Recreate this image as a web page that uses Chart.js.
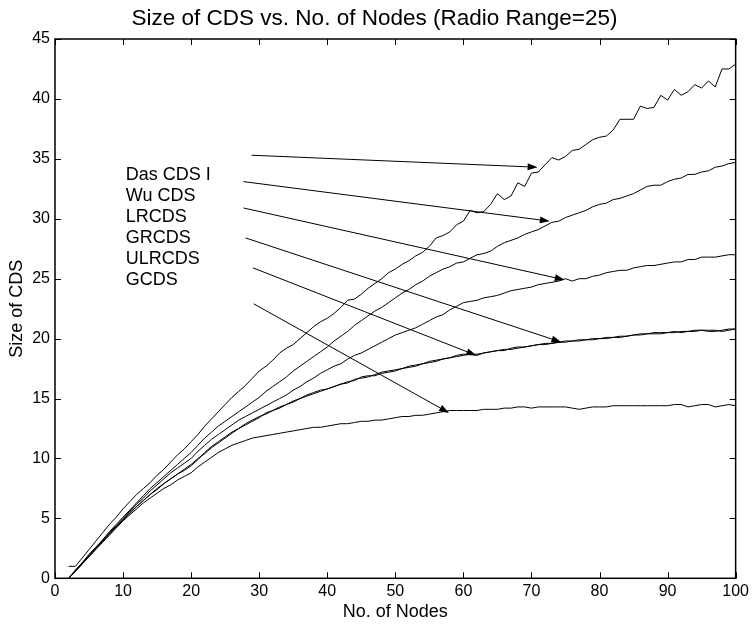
<!DOCTYPE html>
<html>
<head>
<meta charset="utf-8">
<script src="https://cdn.jsdelivr.net/npm/chart.js@4"></script>
<style>
html,body{margin:0;padding:0;background:#fff;}
#wrap{width:753px;height:627px;position:relative;}
</style>
</head>
<body>
<div id="wrap"><canvas id="c"></canvas></div>
<script>
const nodes = [2,3,4,5,6,7,8,9,10,11,12,13,14,15,16,17,18,19,20,21,22,23,24,25,26,27,28,29,30,31,32,33,34,35,36,37,38,39,40,41,42,43,44,45,46,47,48,49,50,51,52,53,54,55,56,57,58,59,60,61,62,63,64,65,66,67,68,69,70,71,72,73,74,75,76,77,78,79,80,81,82,83,84,85,86,87,88,89,90,91,92,93,94,95,96,97,98,99,100];

const dasCDS = [1.0,1.0,1.7,2.4,3.1,3.8,4.5,5.1,5.8,6.4,7.0,7.5,8.0,8.6,9.1,9.7,10.3,10.8,11.4,12.0,12.7,13.3,13.9,14.5,15.1,15.6,16.1,16.7,17.3,17.7,18.2,18.8,19.2,19.5,20.0,20.5,21.0,21.4,21.7,22.1,22.6,23.2,23.3,23.7,24.2,24.6,25.0,25.5,25.8,26.2,26.5,26.9,27.2,27.7,28.4,28.6,28.9,29.5,29.8,30.7,30.5,30.6,31.2,32.1,31.6,31.9,33.0,32.7,33.8,33.9,34.5,35.1,34.9,35.2,35.7,35.8,36.2,36.6,36.8,36.9,37.4,38.3,38.3,38.3,39.4,39.2,39.3,40.3,39.9,40.8,40.3,40.6,41.2,40.9,41.5,41.0,42.5,42.5,42.9];

const wuCDS = [0,0.7,1.3,2.0,2.6,3.2,3.9,4.5,5.1,5.7,6.3,6.9,7.5,8.0,8.5,9.0,9.5,10.0,10.5,11.1,11.7,12.2,12.7,13.1,13.5,13.9,14.3,14.7,15.1,15.6,16.0,16.4,16.8,17.3,17.7,18.1,18.5,18.9,19.3,19.8,20.2,20.6,21.1,21.5,21.9,22.3,22.6,23.0,23.4,23.8,24.1,24.5,24.8,25.2,25.5,25.8,26.0,26.3,26.4,26.7,27.0,27.1,27.3,27.7,28.0,28.2,28.4,28.7,28.9,29.1,29.4,29.7,29.8,30.1,30.3,30.5,30.7,31.0,31.2,31.3,31.6,31.7,31.9,32.1,32.4,32.7,32.8,32.8,33.1,33.3,33.4,33.7,33.7,33.9,34.0,34.3,34.4,34.6,34.7];

const lrCDS = [0,0.6,1.3,1.9,2.5,3.2,3.8,4.4,5.0,5.6,6.2,6.7,7.3,7.8,8.3,8.8,9.2,9.6,10.0,10.6,11.1,11.6,12.0,12.4,12.8,13.2,13.5,13.8,14.1,14.4,14.7,15.0,15.3,15.7,16.0,16.4,16.7,17.1,17.4,17.7,17.9,18.3,18.6,18.8,19.1,19.4,19.7,20.0,20.3,20.5,20.7,20.9,21.2,21.5,21.8,22.0,22.4,22.7,23.0,23.1,23.2,23.4,23.5,23.6,23.8,24.0,24.1,24.2,24.3,24.5,24.6,24.7,24.8,25.0,24.8,25.0,25.0,25.2,25.3,25.5,25.6,25.7,25.7,25.9,26.0,26.1,26.1,26.2,26.3,26.4,26.4,26.6,26.6,26.8,26.8,26.8,26.9,27.0,27.0];

const grCDS = [0,0.6,1.2,1.8,2.5,3.1,3.7,4.3,4.9,5.5,6.0,6.5,7.0,7.5,7.9,8.3,8.7,9.0,9.4,9.9,10.5,11.0,11.4,11.8,12.2,12.5,12.8,13.1,13.4,13.8,14.0,14.3,14.5,14.8,15.0,15.2,15.4,15.6,15.8,16.0,16.2,16.4,16.5,16.8,16.9,16.9,17.1,17.2,17.3,17.5,17.6,17.7,17.9,18.0,18.1,18.3,18.4,18.5,18.6,18.7,18.7,18.8,18.9,19.0,19.1,19.1,19.2,19.3,19.4,19.5,19.6,19.6,19.7,19.7,19.8,19.9,19.9,19.9,20.0,20.0,20.1,20.2,20.2,20.3,20.4,20.4,20.4,20.4,20.5,20.5,20.6,20.6,20.7,20.7,20.6,20.6,20.7,20.8,20.8];

const ulrCDS = [0,0.6,1.2,1.9,2.5,3.1,3.7,4.3,4.9,5.4,6.0,6.5,7.0,7.4,7.9,8.3,8.7,9.1,9.5,10.0,10.4,10.9,11.3,11.7,12.1,12.5,12.9,13.2,13.5,13.7,14.0,14.2,14.5,14.7,15.0,15.3,15.5,15.7,15.8,16.0,16.2,16.3,16.6,16.7,16.8,17.0,17.2,17.3,17.4,17.5,17.7,17.8,17.9,18.1,18.2,18.3,18.4,18.6,18.7,18.7,18.6,18.8,18.9,19.0,19.0,19.2,19.3,19.3,19.4,19.5,19.5,19.6,19.7,19.8,19.8,19.8,19.9,20.0,20.0,20.1,20.1,20.1,20.2,20.3,20.3,20.4,20.5,20.5,20.5,20.6,20.5,20.6,20.6,20.7,20.7,20.7,20.6,20.7,20.8];

const gCDS = [0,0.6,1.2,1.8,2.4,3.0,3.6,4.2,4.8,5.3,5.8,6.3,6.7,7.1,7.5,7.8,8.2,8.5,8.8,9.3,9.7,10.1,10.5,10.8,11.1,11.3,11.5,11.7,11.8,11.9,12.0,12.1,12.2,12.3,12.4,12.5,12.6,12.6,12.7,12.8,12.9,12.9,13.0,13.1,13.1,13.2,13.2,13.3,13.4,13.5,13.5,13.6,13.6,13.7,13.8,13.9,14.0,14.0,14.0,14.0,14.0,14.1,14.1,14.1,14.2,14.2,14.3,14.3,14.2,14.3,14.3,14.3,14.3,14.3,14.2,14.1,14.2,14.3,14.3,14.3,14.4,14.4,14.4,14.4,14.4,14.4,14.4,14.4,14.4,14.5,14.5,14.3,14.4,14.5,14.5,14.3,14.4,14.5,14.4];

const seriesNames = ['Das CDS I','Wu CDS','LRCDS','GRCDS','ULRCDS','GCDS'];
const seriesValues = [dasCDS, wuCDS, lrCDS, grCDS, ulrCDS, gCDS];

const xTicks = [0,10,20,30,40,50,60,70,80,90,100];
const yTicks = [0,5,10,15,20,25,30,35,40,45];

// annotation text anchor (data coordinates, one baseline per label)
const labelX = 10.4;
const labelY = [33.25,31.5,29.74,27.98,26.24,24.49];
// arrows from text to curves (data coordinates)
const arrowStart = [[28.9,35.3],[27.7,33.1],[27.7,30.9],[28.0,28.4],[29.1,25.9],[29.2,22.9]];
const arrowEnd   = [[70.9,34.3],[72.7,29.8],[74.9,24.9],[74.4,19.7],[61.9,18.6],[57.9,13.8]];

const FONT = "'Liberation Sans', Arial, Helvetica, sans-serif";

const datasets = seriesValues.map((vals, i) => ({
  label: seriesNames[i],
  data: nodes.map((n, k) => ({x: n, y: vals[k]})),
  borderColor: '#000',
  backgroundColor: '#000',
  borderWidth: 1,
  pointRadius: 0,
  pointHoverRadius: 0,
  tension: 0,
  fill: false
}));

const matlabAxes = {
  id: 'matlabAxes',
  afterDatasetsDraw(chart) {
    const ctx = chart.ctx;
    const a = chart.chartArea;
    const xs = chart.scales.x, ys = chart.scales.y;
    ctx.save();
    ctx.strokeStyle = '#000';
    ctx.fillStyle = '#000';
    ctx.lineWidth = 1;
    const tl = 6;
    ctx.beginPath();
    xTicks.forEach(v => {
      const px = Math.round(xs.getPixelForValue(v)) + 0.5;
      ctx.moveTo(px, a.bottom); ctx.lineTo(px, a.bottom - tl);
      ctx.moveTo(px, a.top); ctx.lineTo(px, a.top + tl);
    });
    yTicks.forEach(v => {
      const py = Math.round(ys.getPixelForValue(v)) + 0.5;
      ctx.moveTo(a.left, py); ctx.lineTo(a.left + tl, py);
      ctx.moveTo(a.right, py); ctx.lineTo(a.right - tl, py);
    });
    ctx.stroke();
    ctx.lineWidth = 1.5;
    ctx.strokeRect(a.left, a.top, a.right - a.left, a.bottom - a.top);

    ctx.font = '18px ' + FONT;
    ctx.textAlign = 'left';
    ctx.textBaseline = 'alphabetic';
    seriesNames.forEach((name, i) => {
      ctx.fillText(name, xs.getPixelForValue(labelX), ys.getPixelForValue(labelY[i]));
    });

    ctx.lineWidth = 1;
    arrowStart.forEach((s, i) => {
      const x1 = xs.getPixelForValue(s[0]), y1 = ys.getPixelForValue(s[1]);
      const x2 = xs.getPixelForValue(arrowEnd[i][0]), y2 = ys.getPixelForValue(arrowEnd[i][1]);
      const ang = Math.atan2(y2 - y1, x2 - x1);
      const hl = 10, hw = 3.5;
      const bx = x2 - hl * Math.cos(ang), by = y2 - hl * Math.sin(ang);
      ctx.beginPath();
      ctx.moveTo(x1, y1); ctx.lineTo(bx, by);
      ctx.stroke();
      ctx.beginPath();
      ctx.moveTo(x2, y2);
      ctx.lineTo(bx + hw * Math.sin(ang), by - hw * Math.cos(ang));
      ctx.lineTo(bx - hw * Math.sin(ang), by + hw * Math.cos(ang));
      ctx.closePath();
      ctx.fill();
    });
    ctx.restore();
  }
};

new Chart(document.getElementById('c'), {
  type: 'line',
  data: { datasets },
  options: {
    responsive: true,
    maintainAspectRatio: false,
    animation: false,
    events: [],
    layout: { padding: { left: 11, right: 15, top: 0, bottom: 0 } },
    plugins: {
      legend: { display: false },
      tooltip: { enabled: false },
      title: {
        display: true,
        text: 'Size of CDS vs. No. of Nodes (Radio Range=25)',
        color: '#000',
        font: { family: FONT, size: 22.5, weight: 'normal', lineHeight: 1.2 },
        padding: { top: 5, bottom: 7 }
      }
    },
    scales: {
      x: {
        type: 'linear',
        min: 0, max: 100,
        afterFit(scale) { scale.height = 48.7; },
        afterBuildTicks(scale) { scale.ticks = xTicks.map(v => ({value: v})); },
        grid: { display: false, drawTicks: false },
        border: { display: false },
        ticks: { color: '#000', padding: 4, maxRotation: 0, font: { family: FONT, size: 16 } },
        title: { display: true, text: 'No. of Nodes', color: '#000', padding: { top: 0, bottom: 4 }, font: { family: FONT, size: 18 } }
      },
      y: {
        type: 'linear',
        min: 0, max: 45,
        afterFit(scale) { scale.width = 44; },
        afterBuildTicks(scale) { scale.ticks = yTicks.map(v => ({value: v})); },
        grid: { display: false, drawTicks: false },
        border: { display: false },
        ticks: { color: '#000', padding: 5, font: { family: FONT, size: 16 } },
        title: { display: true, text: 'Size of CDS', color: '#000', padding: { top: -5, bottom: 0 }, font: { family: FONT, size: 18 } }
      }
    }
  },
  plugins: [matlabAxes]
});
</script>
</body>
</html>
